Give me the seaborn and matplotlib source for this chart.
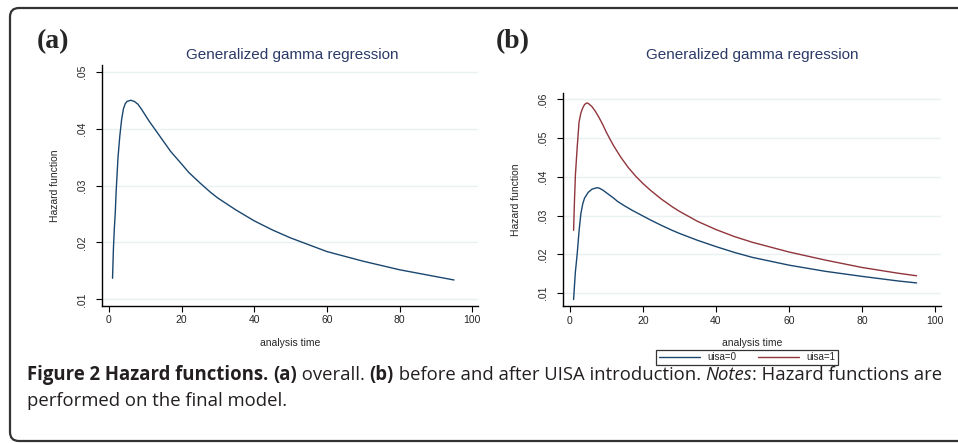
import numpy as np
import pandas as pd
import matplotlib
matplotlib.use("Agg")
import matplotlib.pyplot as plt
import seaborn as sns
from matplotlib.patches import FancyBboxPatch
from matplotlib.transforms import IdentityTransform

# --- data ---
time_a = [1, 1.25, 1.5, 1.75, 2, 2.5, 3, 3.5, 4, 4.5, 5, 6, 7, 8, 9, 10, 11, 12, 13, 14, 15,
          17, 20, 22, 25, 28, 30, 35, 40, 45, 50, 60, 70, 80, 90, 95]
hazard_a = [0.0137, 0.0190, 0.0225, 0.0252, 0.0290, 0.0349, 0.0387, 0.0416, 0.0435, 0.0444,
            0.0448, 0.0450, 0.0448, 0.0443, 0.0434, 0.0424, 0.0414, 0.0405, 0.0396, 0.0387,
            0.0378, 0.0360, 0.0338, 0.0323, 0.0305, 0.0288, 0.0278, 0.0257, 0.0238, 0.0222,
            0.0208, 0.0184, 0.0167, 0.0152, 0.0140, 0.0134]

time_uisa0 = [1, 1.25, 1.5, 2, 2.5, 3, 3.5, 4, 5, 6, 7, 7.5, 8, 9, 10, 11, 12, 13, 15, 17,
              20, 22, 25, 28, 30, 35, 40, 45, 50, 60, 70, 80, 90, 95]
hazard_uisa0 = [0.0083, 0.0120, 0.0155, 0.0202, 0.0260, 0.0305, 0.0330, 0.0345, 0.0360, 0.0368,
                0.0371, 0.0372, 0.0371, 0.0366, 0.0359, 0.0352, 0.0345, 0.0337, 0.0325, 0.0314,
                0.0299, 0.0289, 0.0275, 0.0262, 0.0254, 0.0236, 0.0220, 0.0205, 0.0192, 0.0172,
                0.0156, 0.0143, 0.0131, 0.0126]

time_uisa1 = [1, 1.25, 1.5, 2, 2.5, 3, 3.5, 4, 4.6, 5, 6, 7, 8, 9, 10, 11, 12, 14, 16, 18,
              20, 22, 25, 28, 30, 35, 40, 45, 50, 60, 70, 80, 90, 95]
hazard_uisa1 = [0.0262, 0.0340, 0.0405, 0.0478, 0.0542, 0.0565, 0.0578, 0.0587, 0.0591, 0.0590,
                0.0582, 0.0569, 0.0553, 0.0535, 0.0515, 0.0497, 0.0480, 0.0450, 0.0424, 0.0402,
                0.0383, 0.0366, 0.0343, 0.0323, 0.0311, 0.0285, 0.0264, 0.0246, 0.0231, 0.0206,
                0.0185, 0.0166, 0.0151, 0.01445]

x_ticks = [0, 20, 40, 60, 80, 100]
yticks_a = [0.01, 0.02, 0.03, 0.04, 0.05]
yticks_b = [0.01, 0.02, 0.03, 0.04, 0.05, 0.06]

BLUE = "#1a476f"
RED = "#90353b"
GRID = "#e9f1f2"
TITLE_C = "#2b3a67"

sns.set_style("ticks")
plt.rcParams["font.family"] = ["Liberation Sans", "DejaVu Sans"]

W, H = 958, 443
fig = plt.figure(figsize=(W / 100, H / 100), dpi=100)


def px_axes(left, top, right, bottom):
    return fig.add_axes([left / W, 1 - bottom / H, (right - left) / W, (bottom - top) / H])


def style_axes(ax, yticks, ylim):
    ax.set_xlim(-1.9, 101.6)
    ax.set_ylim(*ylim)
    ax.set_xticks(x_ticks)
    ax.set_xticklabels([str(t) for t in x_ticks], fontsize=7.5)
    ax.set_yticks(yticks)
    ax.set_yticklabels([f"{t:.2f}"[1:] for t in yticks], fontsize=7.5, rotation=90, va="center")
    for t in yticks:
        ax.axhline(t, color=GRID, lw=1.0, zorder=0)
    sns.despine(ax=ax)
    for s in ("left", "bottom"):
        ax.spines[s].set_linewidth(1.0)
        ax.spines[s].set_color("black")
    ax.tick_params(axis="both", length=4, width=0.8, color="black")
    ax.tick_params(axis="x", pad=3)
    ax.tick_params(axis="y", pad=7)
    ax.set_xlabel("analysis time", fontsize=7.5, labelpad=9)
    ax.set_ylabel("Hazard function", fontsize=7.5, labelpad=12)


# panel (a)
ax_a = px_axes(102, 65, 478, 305.7)
df_a = pd.DataFrame({"time": time_a, "hazard": hazard_a})
sns.lineplot(data=df_a, x="time", y="hazard", color=BLUE, lw=1.0, ax=ax_a)
style_axes(ax_a, yticks_a, (0.00888, 0.0512))

# panel (b)
ax_b = px_axes(563, 93.3, 940.7, 306)
df_b = pd.concat([
    pd.DataFrame({"time": time_uisa0, "hazard": hazard_uisa0, "group": "uisa=0"}),
    pd.DataFrame({"time": time_uisa1, "hazard": hazard_uisa1, "group": "uisa=1"}),
])
sns.lineplot(data=df_b, x="time", y="hazard", hue="group",
             palette={"uisa=0": BLUE, "uisa=1": RED}, lw=1.0, ax=ax_b)
style_axes(ax_b, yticks_b, (0.00664, 0.0616))
handles, labels = ax_b.get_legend_handles_labels()
ax_b.get_legend().remove()
leg = fig.legend(handles, labels, loc="center", bbox_to_anchor=(747 / W, 1 - 357.5 / H),
                 ncol=2, fontsize=7, frameon=True, fancybox=False, handlelength=4.2,
                 columnspacing=2.2, handletextpad=0.8, borderpad=0.25)
leg.get_frame().set_edgecolor("black")
leg.get_frame().set_linewidth(0.9)

# titles and panel letters
for cx in (292, 752):
    fig.text(cx / W, 1 - 55 / H, "Generalized gamma regression", ha="center", va="center",
             fontsize=11, color=TITLE_C)
for cx, lab in ((53, "(a)"), (513, "(b)")):
    fig.text(cx / W, 1 - 42 / H, lab, ha="center", va="center", fontsize=20,
             fontweight="bold", family="Liberation Serif")

# outer rounded box
box = FancyBboxPatch((10, 2), 1000, 433, boxstyle="round,pad=0,rounding_size=9",
                     transform=IdentityTransform(), fill=False, edgecolor="#333333", lw=1.6)
fig.patches.append(box)

# caption with mixed styles, sized so line 1 spans the same width as the original
CAP_C = "#231f20"
line1 = [("Figure 2 Hazard functions. ", "bold", "normal"), ("(a)", "bold", "normal"),
         (" overall. ", "normal", "normal"), ("(b)", "bold", "normal"),
         (" before and after UISA introduction. ", "normal", "normal"),
         ("Notes", "normal", "italic"), (": Hazard functions are", "normal", "normal")]
fig.canvas.draw()
renderer = fig.canvas.get_renderer()


def draw_line1(size):
    x = 27
    texts = []
    for txt, weight, style in line1:
        t = fig.text(x / W, 1 - 375 / H, txt, ha="left", va="center", fontsize=size,
                     fontweight=weight, style=style, color=CAP_C, family="Open Sans")
        x = t.get_window_extent(renderer).x1
        texts.append(t)
    return texts, x


texts, end_x = draw_line1(11)
for t in texts:
    t.remove()
cap_size = 11 * (945 - 27) / (end_x - 27)
draw_line1(cap_size)
fig.text(27 / W, 1 - 401 / H, "performed on the final model.", ha="left", va="center",
         fontsize=cap_size, color=CAP_C, family="Open Sans")

fig.savefig("out.png", dpi=100)
